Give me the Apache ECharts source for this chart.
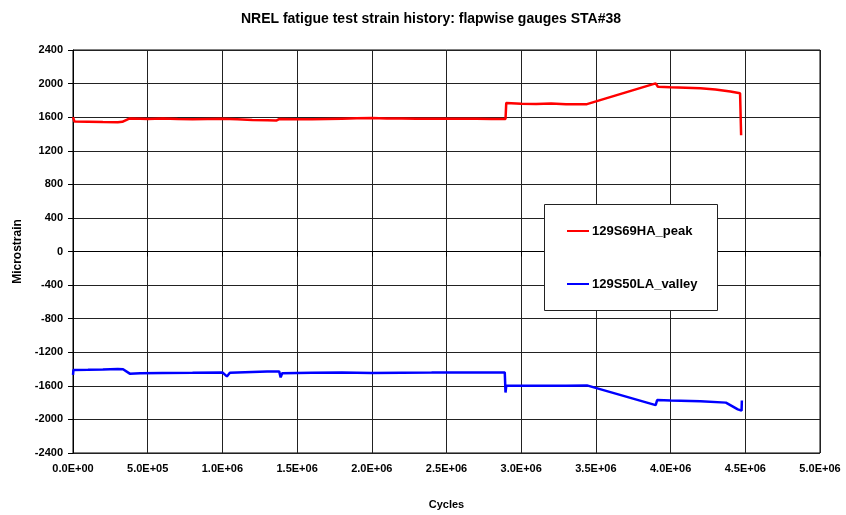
<!DOCTYPE html>
<html>
<head>
<meta charset="utf-8">
<script src="https://cdn.jsdelivr.net/npm/echarts@6/dist/echarts.min.js"></script>
<style>
html,body{margin:0;padding:0;background:#fff;}
#chart{width:846px;height:515px;}
</style>
</head>
<body>
<div id="chart"></div>
<script>
var titleText = 'NREL fatigue test strain history: flapwise gauges STA#38';
var seriesNames = ['129S69HA_peak', '129S50LA_valley'];
var xTicks = [0, 5e5, 1e6, 1.5e6, 2e6, 2.5e6, 3e6, 3.5e6, 4e6, 4.5e6, 5e6];
var yTicks = [-2400, -2000, -1600, -1200, -800, -400, 0, 400, 800, 1200, 1600, 2000, 2400];

var peakCycles = [0, 5e3, 1e4, 1e5, 2e5, 3e5, 3.3e5, 3.8e5, 4.5e5, 5e5, 6e5, 7e5, 8e5, 9e5, 1.0e6, 1.1e6, 1.2e6, 1.3e6, 1.36e6, 1.38e6, 1.5e6, 1.6e6, 1.7e6, 1.8e6, 1.9e6, 2.0e6, 2.1e6, 2.2e6, 2.3e6, 2.4e6, 2.5e6, 2.6e6, 2.7e6, 2.8e6, 2.895e6, 2.9e6, 3.0e6, 3.1e6, 3.2e6, 3.3e6, 3.44e6, 3.9e6, 3.915e6, 4.0e6, 4.1e6, 4.2e6, 4.3e6, 4.4e6, 4.465e6, 4.47e6, 4.472e6];
var peakStrain = [1600, 1600, 1548, 1545, 1542, 1540, 1545, 1585, 1582, 1578, 1585, 1578, 1576, 1578, 1580, 1575, 1565, 1562, 1560, 1578, 1576, 1574, 1578, 1582, 1586, 1590, 1584, 1585, 1582, 1580, 1582, 1580, 1580, 1578, 1578, 1770, 1760, 1758, 1762, 1755, 1755, 2003, 1962, 1955, 1950, 1945, 1930, 1905, 1885, 1880, 1385];

var valleyCycles = [0, 3e3, 1e5, 2e5, 3e5, 3.35e5, 3.8e5, 4.5e5, 6e5, 8e5, 1.0e6, 1.03e6, 1.05e6, 1.2e6, 1.3e6, 1.38e6, 1.39e6, 1.4e6, 1.6e6, 1.8e6, 2.0e6, 2.2e6, 2.4e6, 2.6e6, 2.8e6, 2.89e6, 2.895e6, 2.9e6, 3.1e6, 3.3e6, 3.44e6, 3.9e6, 3.91e6, 4.0e6, 4.2e6, 4.37e6, 4.45e6, 4.475e6, 4.477e6];
var valleyStrain = [-1470, -1410, -1408, -1405, -1400, -1402, -1455, -1450, -1448, -1445, -1440, -1488, -1445, -1435, -1430, -1428, -1500, -1450, -1445, -1440, -1448, -1443, -1442, -1440, -1440, -1440, -1680, -1600, -1600, -1598, -1595, -1830, -1770, -1775, -1785, -1800, -1880, -1895, -1775];

function zip(a, b) { return a.map(function (v, i) { return [v, b[i]]; }); }
function sci(v) {
  if (v === 0) return '0.0E+00';
  var e = Math.floor(Math.log10(Math.abs(v)) + 1e-9);
  var m = v / Math.pow(10, e);
  return m.toFixed(1) + 'E+' + (e < 10 ? '0' + e : e);
}

var FONT = '"Liberation Sans", Arial, sans-serif';
var chart = echarts.init(document.getElementById('chart'), null, {renderer: 'canvas'});
chart.setOption({
  animation: false,
  backgroundColor: '#fff',
  title: {
    text: titleText, left: 426, top: 7, textAlign: 'center',
    textStyle: {fontFamily: FONT, fontWeight: 'bold', fontSize: 14, color: '#000'}
  },
  grid: {left: 73, right: 26, top: 50, bottom: 62, show: true, borderColor: '#000', borderWidth: 1, backgroundColor: '#fff'},
  graphic: [{
    type: 'rect', left: 544, top: 204, z: 10,
    shape: {width: 173, height: 106},
    style: {fill: '#fff', stroke: '#222', lineWidth: 1}
  }],
  legend: {
    data: seriesNames, orient: 'vertical', left: 567, top: 224, padding: 0, z: 20,
    icon: 'path://M0,0H22V2H0Z',
    itemWidth: 22, itemHeight: 2, itemGap: 39,
    textStyle: {fontFamily: FONT, fontWeight: 'bold', fontSize: 13, lineHeight: 14, color: '#000', padding: [0, 0, 0, -2]}
  },
  xAxis: {
    type: 'value', min: xTicks[0], max: xTicks[xTicks.length - 1], interval: xTicks[1] - xTicks[0],
    name: 'Cycles', nameLocation: 'middle', nameGap: 46,
    nameTextStyle: {fontFamily: FONT, fontWeight: 'bold', fontSize: 11, color: '#000'},
    axisLine: {show: true, lineStyle: {color: '#000', width: 1}},
    axisTick: {show: true, inside: false, length: 5, lineStyle: {color: '#000'}},
    axisLabel: {formatter: sci, margin: 10, fontFamily: FONT, fontWeight: 'bold', fontSize: 11, color: '#000'},
    splitLine: {show: true, lineStyle: {color: '#222', width: 1}}
  },
  yAxis: {
    type: 'value', min: yTicks[0], max: yTicks[yTicks.length - 1], interval: yTicks[1] - yTicks[0],
    name: 'Microstrain', nameLocation: 'middle', nameGap: 49, nameRotate: 90,
    nameTextStyle: {fontFamily: FONT, fontWeight: 'bold', fontSize: 12, color: '#000'},
    axisLine: {show: true, lineStyle: {color: '#000', width: 1}},
    axisTick: {show: true, inside: false, length: 5, lineStyle: {color: '#000'}},
    axisLabel: {formatter: function (v) { return String(v); }, margin: 10, fontFamily: FONT, fontWeight: 'bold', fontSize: 11, color: '#000'},
    splitLine: {show: true, lineStyle: {color: '#222', width: 1}}
  },
  series: [{
    name: seriesNames[0], type: 'line', data: zip(peakCycles, peakStrain),
    showSymbol: false, symbol: 'none', lineStyle: {color: '#ff0000', width: 2.5}, itemStyle: {color: '#ff0000'}, z: 5
  }, {
    name: seriesNames[1], type: 'line', data: zip(valleyCycles, valleyStrain),
    showSymbol: false, symbol: 'none', lineStyle: {color: '#0000ff', width: 2.5}, itemStyle: {color: '#0000ff'}, z: 5
  }]
});
</script>
</body>
</html>
